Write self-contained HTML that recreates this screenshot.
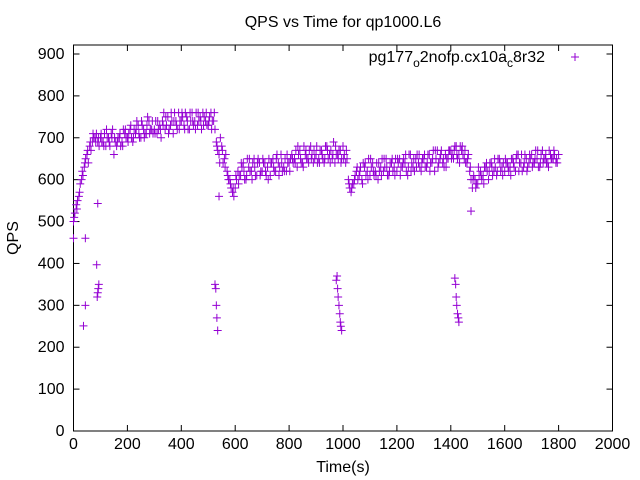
<!DOCTYPE html>
<html><head><meta charset="utf-8"><style>
body{margin:0;background:#fff}
svg{display:block;font-family:"Liberation Sans",sans-serif;font-size:16px}
</style></head><body>
<svg id="c" width="640" height="480"></svg>
<script>
const xTicks=[0,200,400,600,800,1000,1200,1400,1600,1800,2000];
const yTicks=[0,100,200,300,400,500,600,700,800,900];
const qpsA=[500,540,560,600,630,660,680,690,700,690,
700,690,680,700,710,660,680,700,690,710,
700,720,690,710,730,700,720,710,740,720,
720,710,730,740,720,750,730,710,740,760,
740,730,750,720,760,740,730,750,760,740,
730,760,740,690,660,680,650,620,600,570,
580,620,610,640,600,630,620,650,610,640,
620,640,630,610,650,620,640,660,630,620,
640,660,650,630,670,640,660,650,680,640,
660,650,670,640,680,660,650,640,660,670,
680,640,600,570,590,620,610,600,630,620,
610,640,620,600,630,620,650,610,640,630,
620,650,630,640,610,660,630,650,640,620,
650,630,660,640,620,670,650,640,660,650,
670,650,680,660,670,650,640,620,580,600,
590,620,610,630,600,640,620,610,650,630,
620,640,630,650,620,660,640,630,650,640,
660,640,650,630,670,650,640,660,650,640,660];
const qpsB=[520,550,590,610,650,640,670,700,710,680,
690,710,700,680,720,690,700,680,720,700,
710,700,720,740,700,730,710,750,720,710,
740,720,700,760,730,720,740,760,720,740,
750,760,720,740,730,760,740,720,750,730,
750,740,720,670,700,640,660,600,580,560,
600,610,630,600,650,620,640,610,650,620,
640,610,650,640,620,660,630,620,650,640,
650,640,670,660,640,680,650,670,660,650,
640,670,650,680,650,670,690,660,670,650,
660,650,580,590,610,600,630,640,610,650,
630,610,640,620,650,630,610,640,620,650,
640,630,650,620,660,640,620,660,630,650,
630,660,640,670,650,640,670,630,650,670,
660,680,650,680,660,640,660,600,610,590,
610,600,630,620,640,610,630,650,620,640,
640,620,650,630,660,640,620,660,630,650,
640,670,630,660,650,640,670,650,660,640,650];
const qpsC=[510,530,570,620,640,670,690,710,690,700,
710,680,720,690,700,700,690,710,680,720,
690,730,700,720,710,740,700,730,710,740,
710,740,720,730,750,710,760,740,730,720,
760,720,740,760,740,720,760,740,730,760,
740,720,760,680,640,670,630,610,590,580,
610,590,640,620,610,650,600,630,640,610,
650,620,600,640,630,650,610,640,620,660,
620,650,640,680,650,630,670,640,650,670,
680,640,660,650,670,640,660,680,650,640,
650,670,590,580,600,630,620,590,640,600,
650,620,610,640,610,650,630,620,650,610,
650,610,640,660,630,620,650,630,660,640,
660,640,620,650,670,630,660,650,630,670,
650,670,660,640,680,670,650,630,600,580,
630,610,590,640,620,630,650,620,640,610,
650,630,610,640,650,620,660,640,620,660,
630,650,670,640,640,660,630,650,670,650,640];
const outT=[0,37,44,44,86,88,90,92,94,90,525,528,530,532,535,540,975,978,980,982,985,988,990,992,995,1415,1418,1420,1422,1425,1428,1430,1475];
const outQ=[460,251,300,460,397,320,543,340,350,330,350,340,300,270,240,560,360,370,340,320,300,280,260,250,240,365,350,320,300,280,270,260,525];
const L=73.5,R=612.5,T=45,B=431,Y900=54;
const xs=v=>L+v*(R-L)/2000, ys=v=>B-v*(B-Y900)/900;
const svg=document.getElementById('c'),NS='http://www.w3.org/2000/svg';
function mk(t,a,p){const e=document.createElementNS(NS,t);for(const k in a)e.setAttribute(k,a[k]);(p||svg).appendChild(e);return e;}
const frame=mk('rect',{x:L,y:T,width:R-L,height:B-T,fill:'none',stroke:'#000','stroke-width':1});


xTicks.forEach(v=>{const x=xs(v);
 mk('line',{x1:x,y1:B,x2:x,y2:B-6,stroke:'#000'});mk('line',{x1:x,y1:T,x2:x,y2:T+6,stroke:'#000'});
 const t=mk('text',{x:x,y:B+18,'text-anchor':'middle'});t.textContent=v;
 
 });
yTicks.forEach(v=>{const y=ys(v);
 mk('line',{x1:L,y1:y,x2:L+6,y2:y,stroke:'#000'});mk('line',{x1:R,y1:y,x2:R-6,y2:y,stroke:'#000'});
 const t=mk('text',{x:L-9,y:y+5,'text-anchor':'end'});t.textContent=v;
 
 });
const g=mk('g',{stroke:'#9400d3','stroke-width':1});


function plus(x,y){mk('path',{d:`M${x-4},${y}h8M${x},${y-4}v8`},g);}
qpsA.forEach((v,i)=>plus(xs(i*10),ys(v)));
qpsB.forEach((v,i)=>{if(i*10+5<=1800)plus(xs(i*10+5),ys(v));});
qpsC.forEach((v,i)=>{if(i*10+2.5<=1800)plus(xs(i*10+2.5),ys(v));});
outT.forEach((t,i)=>plus(xs(t),ys(outQ[i])));
plus(575,57);
</script>
<svg style="position:absolute;left:0;top:0" width="640" height="480" font-family="Liberation Sans, sans-serif" font-size="16">
<text x="343" y="27" text-anchor="middle">QPS vs Time for qp1000.L6</text>
<text x="343" y="472" text-anchor="middle">Time(s)</text>
<text x="18" y="238" text-anchor="middle" transform="rotate(-90 18 238)">QPS</text>
<text x="545" y="62" text-anchor="end">pg177<tspan dy="5" font-size="12">o</tspan><tspan dy="-5">2nofp.cx10a</tspan><tspan dy="5" font-size="12">c</tspan><tspan dy="-5">8r32</tspan></text>
</svg>
</body></html>
